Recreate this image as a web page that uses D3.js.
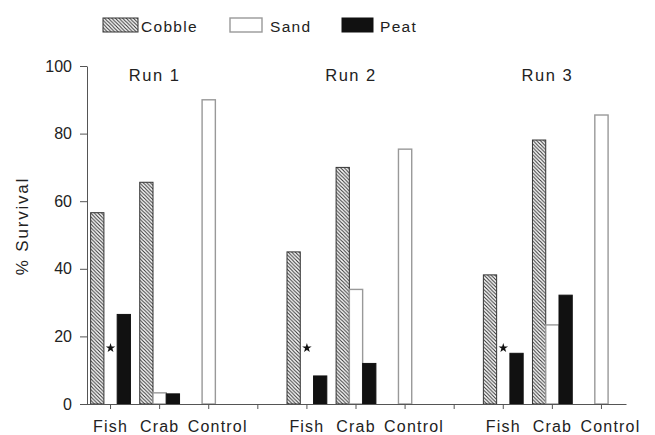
<!DOCTYPE html>
<html><head><meta charset="utf-8">
<script src="https://cdn.jsdelivr.net/npm/d3@7"></script>
<style>
body{margin:0;background:#fff;}
text{font-family:"Liberation Sans",Arial,Helvetica,sans-serif;fill:#222;}
</style></head>
<body><svg id="c" width="655" height="435"></svg>
<script>
// ---- data ----
const runs = ["Run 1", "Run 2", "Run 3"];
const treatments = ["Fish", "Crab", "Control"];
const series = ["Cobble", "Sand", "Peat"];
// values per group: Run1 Fish, Crab, Control, Run2 ..., Run3 ...
const cobble = [56.6, 65.6, null, 45.0, 70.0, null, 38.2, 78.1, null];
const sand   = [0, 3.3, 90.0, 0, 33.9, 75.4, 0, 23.4, 85.5];
const peat   = [26.5, 3.0, null, 8.3, 12.0, null, 15.0, 32.2, null];
const starred = ["Run 1|Fish", "Run 2|Fish", "Run 3|Fish"]; // significant (*) markers on sand
const yTicks = [0, 20, 40, 60, 80, 100];
const yLabel = "% Survival";

// ---- build slots (with empty gap slots between runs) ----
const slots = [];
runs.forEach((r, i) => {
  treatments.forEach(t => slots.push(r + "|" + t));
  if (i < runs.length - 1) slots.push("gap" + i);
});
const groups = [];
runs.forEach((r, i) => treatments.forEach((t, j) => {
  const k = i * treatments.length + j;
  groups.push({key: r + "|" + t, run: r, treat: t, Cobble: cobble[k], Sand: sand[k], Peat: peat[k]});
}));

const svg = d3.select("#c");
const x0 = d3.scaleBand().domain(slots).range([86, 626]);
const x1 = d3.scaleBand().domain(series).range([0, x0.bandwidth()]).paddingInner(0).paddingOuter(0.35);
const y = d3.scaleLinear().domain([0, 100]).range([404, 66]);

// pattern
const defs = svg.append("defs");
const pat = defs.append("pattern").attr("id", "hatch").attr("patternUnits", "userSpaceOnUse")
  .attr("width", 3.6).attr("height", 3.6);
pat.append("rect").attr("width", 3.6).attr("height", 3.6).attr("fill", "#fff");
pat.append("path").attr("d", "M-1,-1 L4.6,4.6 M-1,2.6 L1,4.6 M2.6,-1 L4.6,1")
  .attr("stroke", "#333").attr("stroke-width", 1.1);

const fills = {Cobble: "url(#hatch)", Sand: "#fff", Peat: "#111"};
const strokes = {Cobble: "#333", Sand: "#999", Peat: "#111"};

// bars
const g = svg.append("g");
groups.forEach(d => {
  series.forEach(s => {
    const v = d[s];
    if (v == null || v <= 0) return;
    g.append("rect")
      .attr("x", x0(d.key) + x1(s))
      .attr("y", y(v))
      .attr("width", x1.bandwidth())
      .attr("height", y(0) - y(v))
      .attr("fill", fills[s])
      .attr("stroke", strokes[s])
      .attr("stroke-width", s === "Sand" ? 1.4 : 1);
  });
});

// stars
starred.forEach(k => {
  svg.append("path")
    .attr("d", d3.symbol(d3.symbolStar).size(28)())
    .attr("transform", `translate(${x0(k) + x1("Sand") + x1.bandwidth() / 2},${y(0) - 56})`)
    .attr("fill", "#111");
});

// axes
const yAxis = svg.append("g").attr("transform", "translate(87,0)")
  .call(d3.axisLeft(y).tickValues(yTicks).tickSize(7).tickSizeOuter(0).tickPadding(8));
yAxis.selectAll("text").attr("font-size", 16).style("font-family", "Liberation Sans, Arial, sans-serif").attr("fill", "#222");

const xAxis = svg.append("g").attr("transform", `translate(0,${y(0)})`)
  .call(d3.axisBottom(x0).tickSize(5).tickSizeOuter(0).tickPadding(12)
    .tickFormat(k => k.startsWith("gap") ? "" : k.split("|")[1]));
xAxis.selectAll("text").attr("font-size", 16).style("letter-spacing", "1.2px")
  .style("font-family", "Liberation Sans, Arial, sans-serif").attr("fill", "#222")
  .attr("dx", k => k.endsWith("Control") ? 9 : 0);
svg.selectAll(".domain, .tick line").attr("stroke", "#555");

// run labels
runs.forEach(r => {
  svg.append("text")
    .attr("x", x0(r + "|Crab") + x0.bandwidth() / 2 - 5)
    .attr("y", 81)
    .attr("text-anchor", "middle")
    .attr("font-size", 16.5)
    .style("letter-spacing", "1.5px")
    .text(r);
});

// y label
svg.append("text")
  .attr("transform", "translate(28,226) rotate(-90)")
  .attr("text-anchor", "middle")
  .attr("font-size", 17)
  .style("letter-spacing", "1.8px")
  .attr("fill", "#444")
  .text(yLabel);

// legend
const legendPos = [{s: "Cobble", x: 103, w: 35, tx: 141}, {s: "Sand", x: 230, w: 32, tx: 270}, {s: "Peat", x: 342, w: 31, tx: 380}];
legendPos.forEach(l => {
  svg.append("rect").attr("x", l.x).attr("y", 18).attr("width", l.w).attr("height", 14)
    .attr("fill", fills[l.s]).attr("stroke", strokes[l.s]).attr("stroke-width", l.s === "Sand" ? 1.4 : 1);
  svg.append("text").attr("x", l.tx).attr("y", 32)
    .attr("font-size", 15.5).style("letter-spacing", "1.3px").text(l.s);
});
</script></body></html>
